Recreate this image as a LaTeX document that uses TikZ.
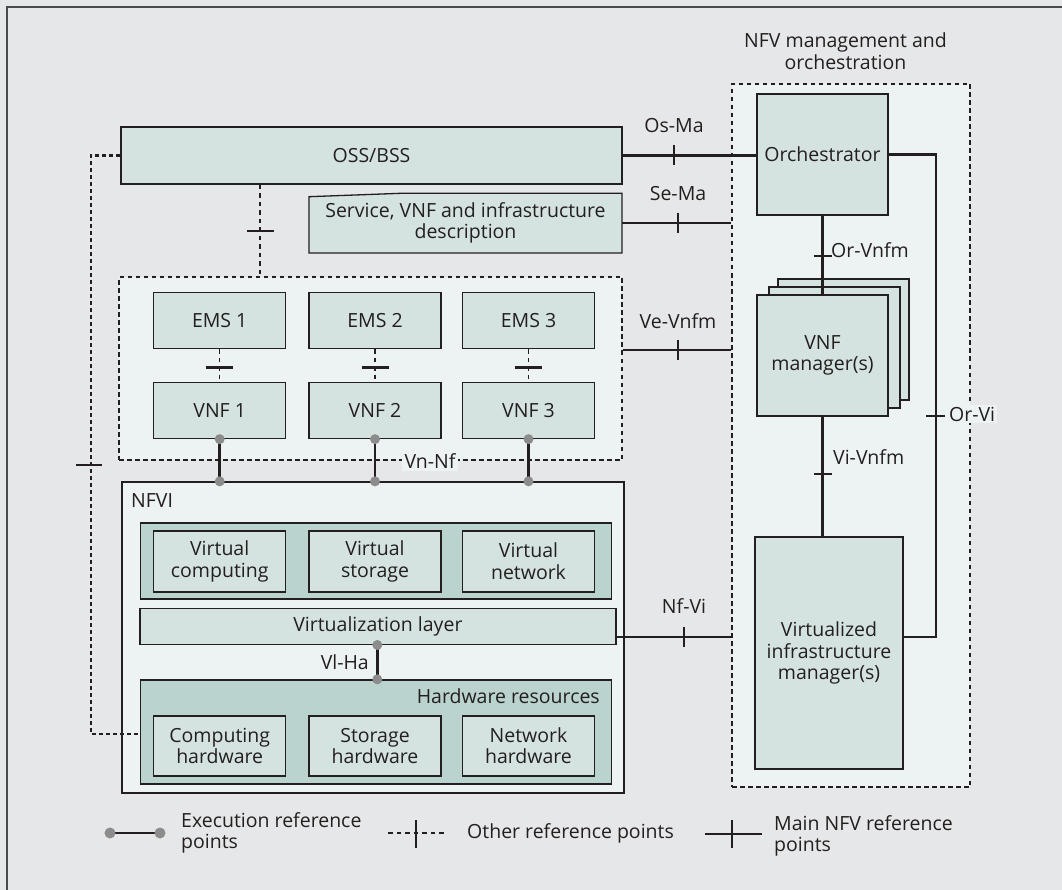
\documentclass[tikz,border=0pt]{standalone}
\usepackage{fontspec}
\setmainfont{Open Sans}
\usetikzlibrary{calc}
\definecolor{bgc}{HTML}{E6E7E8}
\definecolor{boxc}{HTML}{D5E3E0}
\definecolor{panelc}{HTML}{EDF2F2}
\definecolor{darkc}{HTML}{BAD3CE}
\definecolor{ink}{HTML}{231F20}
\definecolor{framec}{HTML}{4A4A4A}
\definecolor{dotc}{HTML}{8C8C8C}
\begin{document}
\begin{tikzpicture}[x=1pt,y=-1pt,
  every node/.style={text=ink, font=\fontsize{19.5}{21.5}\selectfont},
  box/.style={draw=ink, line width=1.3pt, fill=boxc, inner sep=0pt, align=center},
  panel/.style={draw=ink, line width=1.3pt, fill=panelc, inner sep=0pt},
  dpanel/.style={draw=ink, line width=1.3pt, fill=darkc, inner sep=0pt},
  dashpanel/.style={draw=ink, line width=1.1pt, fill=panelc, dash pattern=on 4.5pt off 3.5pt, inner sep=0pt},
  mainln/.style={draw=ink, line width=2.7pt},
  otherln/.style={draw=ink, line width=1.2pt, dash pattern=on 4.5pt off 4pt},
  otherthick/.style={draw=ink, line width=2.3pt, dash pattern=on 4pt off 3pt},
  tickln/.style={draw=ink, line width=2.5pt},
  execln/.style={draw=ink, line width=2.8pt},
  dot/.style={circle, fill=dotc, inner sep=0pt, minimum size=10pt},
  lblbg/.style={fill=panelc, inner sep=2pt},
]
% canvas and frame
\useasboundingbox (0,0) rectangle (1062,890);
\fill[bgc] (0,0) rectangle (1062,890);
\draw[framec, line width=1.5pt] (7,900) -- (7,7) -- (1070,7);

% ---- MANO block ----
\node[anchor=center, align=center] (manotitle) at (845.5,51) {NFV management and\\orchestration};
\node[dashpanel, minimum width=238, minimum height=703] (mano) at (851,435.5) {};
\node[box, minimum width=131, minimum height=121] (orch) at (822.5,154.5) {Orchestrator};
\node[box, minimum width=131, minimum height=121] (vnfm3) at (843.5,339.5) {};
\node[box, minimum width=131, minimum height=121] (vnfm2) at (834.5,347.5) {};
\node[box, minimum width=131, minimum height=121] (vnfm) at (822.5,355.5) {VNF\\manager(s)};
\node[box, minimum width=148, minimum height=232] (vim) at (829,653) {Virtualized\\infrastructure\\manager(s)};

% ---- OSS/BSS and descriptions ----
\node[box, minimum width=501, minimum height=57] (oss) at (371.5,155.5) {OSS/BSS};
\filldraw[draw=ink, line width=1.3pt, fill=boxc] (309,253) -- (309,196.7) -- (401,193.3) -- (622,193.3) -- (622,253) -- cycle;
\node[align=center, inner sep=0pt, minimum width=313, minimum height=60] (svc) at (465.5,223) {Service, VNF and infrastructure\\description};

% ---- VNF area ----
\node[dashpanel, minimum width=503, minimum height=183] (vnfarea) at (370.5,368.5) {};
\node[box, minimum width=132, minimum height=56] (ems1) at (219.7,320.5) {EMS 1};
\node[box, minimum width=132, minimum height=56] (ems2) at (375,320.5) {EMS 2};
\node[box, minimum width=132, minimum height=56] (ems3) at (528.5,320.5) {EMS 3};
\node[box, minimum width=132, minimum height=56] (vnf1) at (219.7,410.5) {VNF 1};
\node[box, minimum width=132, minimum height=56] (vnf2) at (375,410.5) {VNF 2};
\node[box, minimum width=132, minimum height=56] (vnf3) at (528.5,410.5) {VNF 3};

% ---- NFVI ----
\node[panel, minimum width=502, minimum height=311] (nfvi) at (373,637.5) {};
\node[anchor=west, inner sep=0pt] (nfvilbl) at (131,501) {NFVI};
\node[dpanel, minimum width=471, minimum height=76] (vres) at (376.2,560.9) {};
\node[box, minimum width=132, minimum height=61] (vcomp) at (219.7,561.4) {Virtual\\computing};
\node[box, minimum width=132, minimum height=61] (vstor) at (375,561.4) {Virtual\\storage};
\node[box, minimum width=132, minimum height=61] (vnet) at (528.5,561.4) {Virtual\\network};
\node[box, minimum width=476, minimum height=36] (virt) at (377.9,626.3) {Virtualization layer};
\node[dpanel, minimum width=471, minimum height=104] (hw) at (376.2,732) {};
\node[anchor=east, inner sep=0pt] (hwlbl) at (600,696) {Hardware resources};
\node[box, minimum width=132, minimum height=60] (hcomp) at (219.7,745.9) {Computing\\hardware};
\node[box, minimum width=132, minimum height=60] (hstor) at (375,745.9) {Storage\\hardware};
\node[box, minimum width=132, minimum height=60] (hnet) at (528.5,745.9) {Network\\hardware};

% ---- main NFV reference points ----
\draw[mainln] (oss.east) -- (orch.west |- oss.east);
\coordinate (tosma) at (674,0 |- oss.east);
\draw[tickln] ($(tosma)+(0,-10)$) -- ($(tosma)+(0,10)$);
\node[inner sep=0pt] (osma) at (674,126) {Os-Ma};

\draw[mainln] (svc.east) -- (mano.west |- svc.east);
\coordinate (tsema) at (678,0 |- svc.east);
\draw[tickln] ($(tsema)+(0,-10)$) -- ($(tsema)+(0,10)$);
\node[inner sep=0pt] (sema) at (678,194) {Se-Ma};

\coordinate (vevnfmA) at (vnfarea.east |- 0,350);
\draw[mainln] (vevnfmA) -- (mano.west |- vevnfmA);
\coordinate (tvevnfm) at (678,350);
\draw[tickln] ($(tvevnfm)+(0,-10)$) -- ($(tvevnfm)+(0,10)$);
\node[inner sep=0pt] (vevnfm) at (678,321) {Ve-Vnfm};

\coordinate (nfviA) at ($(virt.south east)+(0,-8)$);
\draw[mainln] (nfviA) -- (mano.west |- nfviA);
\coordinate (tnfvi) at (684,0 |- nfviA);
\draw[tickln] ($(tnfvi)+(0,-10)$) -- ($(tnfvi)+(0,10)$);
\node[inner sep=0pt] (nfvilab) at (684,606) {Nf-Vi};

\draw[mainln] (orch.south) -- (orch.south |- vnfm.north);
\coordinate (torv) at (orch.south |- 0,256);
\draw[tickln] ($(torv)+(-9,0)$) -- ($(torv)+(9,0)$);
\node[anchor=west, inner sep=0pt] (orvnfm) at (831,250) {Or-Vnfm};

\draw[mainln] (vnfm.south) -- (vnfm.south |- vim.north);
\coordinate (tviv) at (vnfm.south |- 0,474);
\draw[tickln] ($(tviv)+(-9,0)$) -- ($(tviv)+(9,0)$);
\node[anchor=west, inner sep=0pt] (vivnfm) at (833,457) {Vi-Vnfm};

\coordinate (orviTop) at (936,0 |- orch.east);
\coordinate (orviBot) at (936,0 |- nfviA);
\draw[mainln] (orch.east) -- (orviTop) -- (orviBot) -- (vim.east |- orviBot);
\draw[tickln] (926,416) -- (945,416);
\node[anchor=west, lblbg] (orvi) at (947,414) {Or-Vi};

% ---- other reference points ----
\draw[otherln] (oss.south -| 260,0) -- (vnfarea.north -| 260,0);
\draw[tickln, line width=2.2pt] (247,231) -- (274,231);
\draw[otherthick] (oss.west) -- (91,0 |- oss.west) -- (91,734) -- (hw.west |- 0,734);
\draw[tickln, line width=2.2pt] (76,465) -- (102,465);
\foreach \i in {1,2,3}{
  \draw[otherln] (ems\i.south) -- (vnf\i.north);
  \draw[tickln, line width=2.2pt] ($(ems\i.south)!0.5!(vnf\i.north)+(-13.5,2)$) -- ($(ems\i.south)!0.5!(vnf\i.north)+(13.5,2)$);
}

% ---- execution reference points ----
\foreach \i in {1,2,3}{
  \draw[execln] (vnf\i.south) -- (vnf\i.south |- nfvi.north);
  \node[dot] (vnfd\i) at (vnf\i.south) {};
  \node[dot] (nfvid\i) at (vnf\i.south |- nfvi.north) {};
}
\node[lblbg, inner sep=2.5pt] (vnnf) at (430,461) {Vn-Nf};
\draw[execln] (377.3,0 |- virt.south) -- (377.3,0 |- hw.north);
\node[dot] (vlhaA) at (377.3,0 |- virt.south) {};
\node[dot] (vlhaB) at (377.3,0 |- hw.north) {};
\node[anchor=east, inner sep=0pt] (vlha) at (369,662) {Vl-Ha};

% ---- legend ----
\coordinate (lgE1) at (110,833);
\coordinate (lgE2) at (160,833);
\draw[execln] (lgE1) -- (lgE2);
\node[dot, minimum size=11pt] (lgEd1) at (lgE1) {};
\node[dot, minimum size=11pt] (lgEd2) at (lgE2) {};
\node[anchor=west, align=left, inner sep=0pt] (lgEt) at (181,833) {Execution reference\\points};

\coordinate (lgO1) at (388,833);
\coordinate (lgO2) at (445,833);
\draw[otherln] (lgO1) -- (lgO2);
\draw[tickln, line width=1.8pt] (416,820) -- (416,848);
\node[anchor=west, inner sep=0pt] (lgOt) at (467,833) {Other reference points};

\coordinate (lgM1) at (705,834);
\coordinate (lgM2) at (762,834);
\draw[mainln] (lgM1) -- (lgM2);
\draw[tickln, line width=2pt] (732,820) -- (732,848);
\node[anchor=west, align=left, inner sep=0pt] (lgMt) at (774,836) {Main NFV reference\\points};
\end{tikzpicture}
\end{document}
